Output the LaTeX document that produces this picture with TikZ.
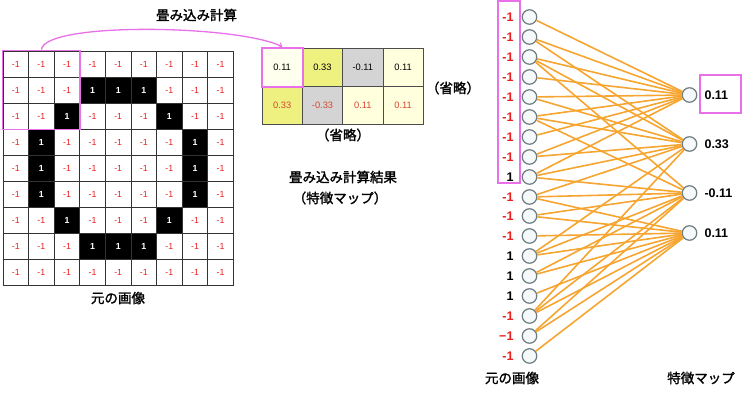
\documentclass[tikz,border=0pt]{standalone}
\usepackage{fontspec}
\setmainfont{Liberation Sans}
\newfontfamily\jpfont{Noto Sans CJK JP}[AutoFakeBold=1.6]
\usepackage{tikz}
\usetikzlibrary{positioning, fit}
\usepackage{xcolor}

\definecolor{magline}{RGB}{232,112,232}
\definecolor{wirecol}{RGB}{246,165,48}
\definecolor{ring}{RGB}{110,125,130}
\definecolor{ringfill}{RGB}{246,249,250}
\definecolor{minusred}{RGB}{235,30,30}
\definecolor{cream}{RGB}{255,255,222}
\definecolor{lemon}{RGB}{238,240,128}
\definecolor{ash}{RGB}{212,212,212}
\definecolor{rowtwo}{RGB}{215,70,50}

\begin{document}
\begin{tikzpicture}[x=1pt, y=-1pt, label distance=8pt,
    pix/.style={draw=black!80, line width=1pt, minimum width=25.6pt, minimum height=26pt, inner sep=0pt},
    off/.style={pix, fill=white, text=minusred, font=\fontsize{8.8}{10}\selectfont},
    on/.style={pix, fill=black, text=white, font=\fontsize{8.8}{10}\selectfont\bfseries},
    fmap/.style={draw=black!70, line width=0.9pt, minimum width=40.3pt, minimum height=38.3pt, inner sep=0pt, font=\fontsize{9.3}{10}\selectfont},
    magbox/.style={draw=magline, line width=1.8pt, inner sep=0pt},
    jptext/.style={font=\jpfont\bfseries\fontsize{13.5}{16}\selectfont, inner sep=0pt},
    unit/.style={circle, draw=ring, fill=ringfill, line width=1.2pt, minimum size=14.5pt, inner sep=0pt},
    link/.style={draw=wirecol, line width=1.6pt},
    neglab/.style={text=minusred, font=\fontsize{12.5}{14}\selectfont\bfseries, inner sep=0pt},
    onelab/.style={text=black, font=\fontsize{12.5}{14}\selectfont\bfseries, inner sep=0pt}
]
    \useasboundingbox (0,0) rectangle (750,394);

    % Original image (9x9 pixels)
    \foreach \pixrow [count=\rw] in {{0,0,0,0,0,0,0,0,0},{0,0,0,1,1,1,0,0,0},{0,0,1,0,0,0,1,0,0},{0,1,0,0,0,0,0,1,0},{0,1,0,0,0,0,0,1,0},{0,1,0,0,0,0,0,1,0},{0,0,1,0,0,0,1,0,0},{0,0,0,1,1,1,0,0,0},{0,0,0,0,0,0,0,0,0}}
      \foreach \v [count=\col] in \pixrow {
        \ifnum\v=1
          \node[on] (c-\rw-\col) at ({3+25.6*(\col-0.5)}, {51+26*(\rw-0.5)}) {1};
        \else
          \node[off] (c-\rw-\col) at ({3+25.6*(\col-0.5)}, {51+26*(\rw-0.5)}) {-1};
        \fi
      }
    \node[magbox, fit=(c-1-1)(c-3-3)] (kernel) {};
    \node[jptext] (src) at (118,298) {元の画像};

    % Feature map
    \node[fmap, fill=cream!55] (f-1-1) at (282.2,67.2) {0.11};
    \node[fmap, fill=lemon] (f-1-2) at (322.5,67.2) {0.33};
    \node[fmap, fill=ash] (f-1-3) at (362.8,67.2) {-0.11};
    \node[fmap, fill=cream] (f-1-4) at (403.1,67.2) {0.11};
    \node[fmap, fill=lemon, text=rowtwo] (f-2-1) at (282.2,105.5) {0.33};
    \node[fmap, fill=ash, text=rowtwo] (f-2-2) at (322.5,105.5) {-0.33};
    \node[fmap, fill=cream, text=rowtwo] (f-2-3) at (362.8,105.5) {0.11};
    \node[fmap, fill=cream, text=rowtwo] (f-2-4) at (403.1,105.5) {0.11};
    \node[magbox, fit=(f-1-1)] (fmbox) {};

    \node[jptext] (calc) at (196.5,15) {畳み込み計算};
    \node[jptext] (omitr) at (453,88) {（省略）};
    \node[jptext] (omitb) at (343,135) {（省略）};
    \node[jptext] (result) at (343,177) {畳み込み計算結果};
    \node[jptext] (fmname) at (340,198) {（特徴マップ）};

    % Kernel to first cell
    \draw[magline, line width=1.3pt, ->] (kernel.north) .. controls +(3,-28) and +(-45,-22) .. (fmbox.north);

    % Input units
    \node[unit, label={[neglab]left:-1}] (x1) at (529.5,17) {};
    \node[unit, label={[neglab]left:-1}] (x2) at (529.5,37) {};
    \node[unit, label={[neglab]left:-1}] (x3) at (529.5,57) {};
    \node[unit, label={[neglab]left:-1}] (x4) at (529.5,77) {};
    \node[unit, label={[neglab]left:-1}] (x5) at (529.5,97) {};
    \node[unit, label={[neglab]left:-1}] (x6) at (529.5,117) {};
    \node[unit, label={[neglab]left:-1}] (x7) at (529.5,137) {};
    \node[unit, label={[neglab]left:-1}] (x8) at (529.5,157) {};
    \node[unit, label={[onelab]left:1}] (x9) at (529.5,177) {};
    \node[unit, label={[neglab]left:-1}] (x10) at (529.5,197) {};
    \node[unit, label={[neglab]left:-1}] (x11) at (529.5,216) {};
    \node[unit, label={[neglab]left:-1}] (x12) at (529.5,236) {};
    \node[unit, label={[onelab]left:1}] (x13) at (529.5,256) {};
    \node[unit, label={[onelab]left:1}] (x14) at (529.5,276) {};
    \node[unit, label={[onelab]left:1}] (x15) at (529.5,296) {};
    \node[unit, label={[neglab]left:-1}] (x16) at (529.5,316) {};
    \node[unit, label={[neglab]left:−1}] (x17) at (529.5,336) {};
    \node[unit, label={[neglab]left:-1}] (x18) at (529.5,356) {};
    \node[magbox, minimum width=22pt, minimum height=182pt] (inbox) at (509,92) {};

    % Output units
    \node[unit, label={[onelab, label distance=7pt]right:0.11}] (y1) at (689.5,95) {};
    \node[unit, label={[onelab, label distance=7pt]right:0.33}] (y2) at (689.5,144) {};
    \node[unit, label={[onelab, label distance=7pt]right:-0.11}] (y3) at (689.5,193) {};
    \node[unit, label={[onelab, label distance=7pt]right:0.11}] (y4) at (689.5,233) {};
    \node[magbox, minimum width=41pt, minimum height=38pt] (outbox) at (720.5,94) {};

    % Connections
    \foreach \i in {1,...,9} \draw[link] (x\i) -- (y1);
    \foreach \i in {2,3,5,6,8,9,10,13,16} \draw[link] (x\i) -- (y2);
    \foreach \i in {3,6,9,10,11,13,14,16,17} \draw[link] (x\i) -- (y3);
    \foreach \i in {10,...,18} \draw[link] (x\i) -- (y4);

    \node[jptext] (src2) at (512,378) {元の画像};
    \node[jptext] (fm2) at (701,378) {特徴マップ};
\end{tikzpicture}
\end{document}
